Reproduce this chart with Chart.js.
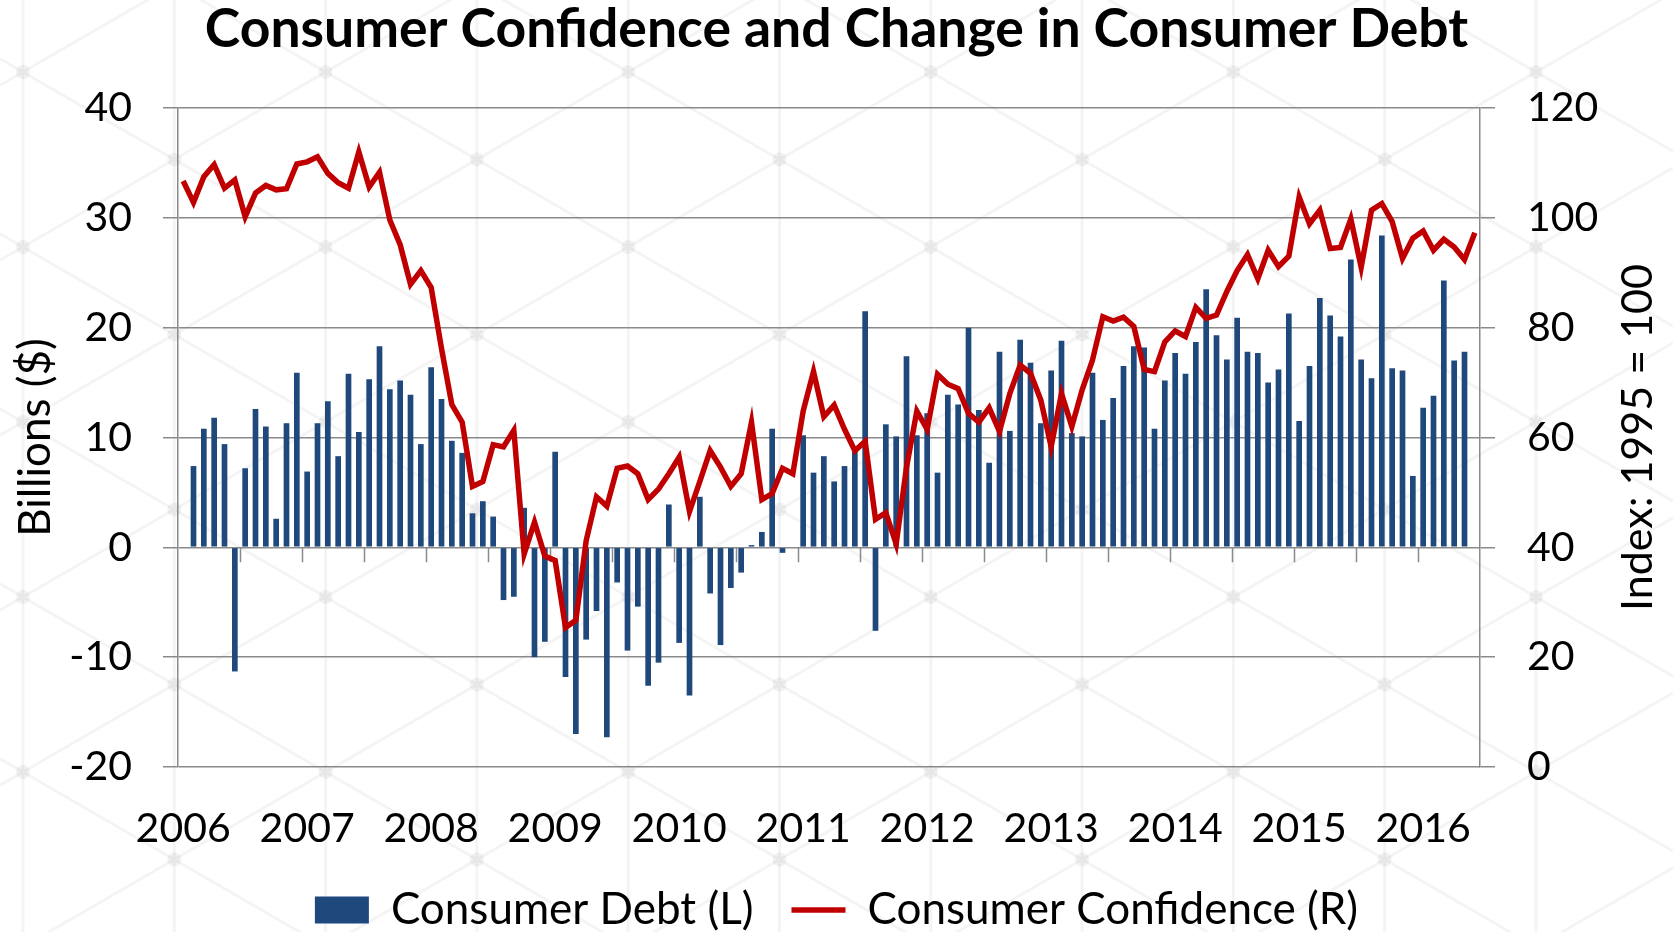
<!DOCTYPE html>
<html>
<head>
<meta charset="utf-8">
<title>Consumer Confidence and Change in Consumer Debt</title>
<script src="https://cdn.jsdelivr.net/npm/chart.js@4.4.1/dist/chart.umd.min.js"></script>
<style>
  html, body { margin: 0; padding: 0; background: #ffffff; }
  #chart { display: block; }
</style>
</head>
<body>
<canvas id="chart" width="1673" height="932"></canvas>
<script>
// Monthly data, Jan 2006 - Jun 2016
const years = ['2006', '2007', '2008', '2009', '2010', '2011', '2012', '2013', '2014', '2015', '2016'];

// Change in consumer debt, billions of dollars (left axis)
const debt2006 = [null, 7.4, 10.8, 11.8, 9.4, -11.3, 7.2, 12.6, 11.0, 2.6, 11.3, 15.9];
const debt2007 = [6.9, 11.3, 13.3, 8.3, 15.8, 10.5, 15.3, 18.3, 14.4, 15.2, 13.9, 9.4];
const debt2008 = [16.4, 13.5, 9.7, 8.6, 3.1, 4.2, 2.8, -4.8, -4.5, 3.6, -10.0, -8.6];
const debt2009 = [8.7, -11.8, -17.0, -8.4, -5.8, -17.3, -3.2, -9.4, -5.4, -12.6, -10.5, 3.9];
const debt2010 = [-8.7, -13.5, 4.6, -4.2, -8.9, -3.7, -2.3, 0.2, 1.4, 10.8, -0.5, null];
const debt2011 = [10.2, 6.8, 8.3, 6.0, 7.4, 8.7, 21.5, -7.6, 11.2, 10.1, 17.4, 10.2];
const debt2012 = [12.2, 6.8, 13.9, 13.0, 20.0, 12.5, 7.7, 17.8, 10.6, 18.9, 16.8, 11.3];
const debt2013 = [16.1, 18.8, 10.4, 10.1, 15.9, 11.6, 13.6, 16.5, 18.3, 18.2, 10.8, 15.2];
const debt2014 = [17.7, 15.8, 18.7, 23.5, 19.3, 17.1, 20.9, 17.8, 17.7, 15.0, 16.2, 21.3];
const debt2015 = [11.5, 16.5, 22.7, 21.1, 19.2, 26.2, 17.1, 15.4, 28.4, 16.3, 16.1, 6.5];
const debt2016 = [12.7, 13.8, 24.3, 17.0, 17.8, null];

// Consumer confidence index, 1995 = 100 (right axis)
const conf2006 = [106.7, 102.8, 107.5, 109.7, 105.4, 106.9, 100.2, 104.5, 105.9, 105.1, 105.3, 109.8];
const conf2007 = [110.2, 111.1, 108.1, 106.4, 105.4, 112.0, 105.6, 108.3, 99.6, 95.1, 87.9, 90.4];
const conf2008 = [87.3, 76.2, 66.0, 62.8, 51.1, 52.0, 58.7, 58.3, 61.3, 38.8, 44.6, 38.4];
const conf2009 = [37.6, 25.4, 26.7, 41.2, 49.2, 47.5, 54.4, 54.8, 53.4, 48.7, 50.6, 53.4];
const conf2010 = [56.4, 46.5, 52.0, 57.6, 54.6, 51.1, 53.4, 62.8, 48.7, 49.8, 54.4, 53.4];
const conf2011 = [64.8, 72.0, 63.8, 65.9, 61.5, 57.6, 59.3, 45.1, 46.3, 40.6, 54.6, 64.8];
const conf2012 = [61.5, 71.5, 69.7, 68.9, 64.4, 62.8, 65.4, 61.1, 68.0, 73.2, 71.7, 66.8];
const conf2013 = [58.3, 68.0, 62.0, 68.7, 74.1, 82.0, 81.2, 81.9, 80.2, 72.4, 72.0, 77.4];
const conf2014 = [79.4, 78.4, 83.7, 81.7, 82.3, 86.6, 90.4, 93.3, 88.9, 94.1, 91.1, 93.0];
const conf2015 = [103.8, 98.9, 101.4, 94.4, 94.6, 99.8, 91.0, 101.4, 102.6, 99.3, 92.6, 96.3];
const conf2016 = [97.6, 94.1, 96.1, 94.7, 92.4, 97.3];

const debtValues = [].concat(debt2006, debt2007, debt2008, debt2009, debt2010, debt2011,
    debt2012, debt2013, debt2014, debt2015, debt2016);
const confValues = [].concat(conf2006, conf2007, conf2008, conf2009, conf2010, conf2011,
    conf2012, conf2013, conf2014, conf2015, conf2016);

// one label per month, "YYYY-MM"
const monthLabels = [];
years.forEach(function(y) {
    for (let m = 1; m <= 12; m++) {
        if (monthLabels.length < confValues.length) {
            monthLabels.push(y + '-' + (m < 10 ? '0' + m : m));
        }
    }
});

const FONT = 'Lato, "Open Sans", sans-serif';
const GRID = '#8a8a8a';
const rightTitle = 'Index: 1995 = 100';

// faint isometric watermark behind the chart
const watermark = {
    id: 'watermark',
    beforeDraw(chart) {
        const ctx = chart.ctx, w = chart.width, h = chart.height;
        const dx = 151.3, dy = 87.5, x0 = 23, y0 = 72;
        const slope = dy / dx;
        ctx.save();
        ctx.fillStyle = '#fff';
        ctx.fillRect(0, 0, w, h);
        ctx.strokeStyle = 'rgba(0,0,0,0.045)';
        ctx.lineWidth = 3;
        ctx.beginPath();
        for (let x = x0; x < w; x += dx) {
            ctx.moveTo(x, 0);
            ctx.lineTo(x, h);
        }
        for (let n = -12; n <= 12; n++) {
            const c = y0 + 2 * dy * n;
            ctx.moveTo(0, c - slope * x0);
            ctx.lineTo(w, c + slope * (w - x0));
            ctx.moveTo(0, c + slope * x0);
            ctx.lineTo(w, c - slope * (w - x0));
        }
        ctx.stroke();
        ctx.fillStyle = 'rgba(0,0,0,0.05)';
        for (let j = -1; j * dy + y0 < h + dy; j++) {
            for (let i = 0; i * dx + x0 < w + dx; i++) {
                if ((i + j) % 2 !== 0) continue;
                ctx.beginPath();
                ctx.arc(x0 + i * dx, y0 + j * dy, 7, 0, Math.PI * 2);
                ctx.fill();
            }
        }
        ctx.restore();
    }
};

// small tick marks every 6 months on the zero line
const zeroTicks = {
    id: 'zeroTicks',
    beforeDatasetsDraw(chart) {
        const x = chart.scales.x, y = chart.scales.y;
        const y0 = y.getPixelForValue(0);
        const half = (x.getPixelForValue(1) - x.getPixelForValue(0)) / 2;
        const ctx = chart.ctx;
        ctx.save();
        ctx.strokeStyle = GRID;
        ctx.lineWidth = 1.5;
        ctx.beginPath();
        for (let i = 6; i < monthLabels.length; i += 6) {
            const px = Math.round(x.getPixelForValue(i) - half) + 0.5;
            ctx.moveTo(px, y0);
            ctx.lineTo(px, y0 + 15);
        }
        ctx.stroke();
        ctx.restore();
    }
};

// right axis title, reading bottom to top like the left one
const rightAxisTitle = {
    id: 'rightAxisTitle',
    afterDraw(chart) {
        const s = chart.scales.y1;
        const ctx = chart.ctx;
        ctx.save();
        ctx.translate(s.right - 35, (s.top + s.bottom) / 2);
        ctx.rotate(-Math.PI / 2);
        ctx.textAlign = 'center';
        ctx.textBaseline = 'middle';
        ctx.fillStyle = '#000';
        ctx.font = '43px ' + FONT;
        ctx.fillText(rightTitle, 0, 0);
        ctx.restore();
    }
};

new Chart(document.getElementById('chart'), {
    data: {
        labels: monthLabels,
        datasets: [
            {
                type: 'bar',
                label: 'Consumer Debt (L)',
                data: debtValues,
                backgroundColor: '#1F497D',
                borderWidth: 0,
                barPercentage: 0.55,
                categoryPercentage: 1.0,
                pointStyle: 'rect',
                yAxisID: 'y',
                order: 2
            },
            {
                type: 'line',
                label: 'Consumer Confidence (R)',
                data: confValues,
                borderColor: '#C00000',
                backgroundColor: '#C00000',
                borderWidth: 5.5,
                pointRadius: 0,
                pointStyle: 'line',
                tension: 0,
                fill: false,
                yAxisID: 'y1',
                order: 1
            }
        ]
    },
    options: {
        responsive: false,
        animation: false,
        layout: { padding: { left: 0, right: 0, top: 0, bottom: -10 } },
        plugins: {
            tooltip: { enabled: false },
            title: {
                display: true,
                text: 'Consumer Confidence and Change in Consumer Debt',
                color: '#000',
                font: { family: FONT, size: 53.5, weight: 'bold', lineHeight: 1.1 },
                padding: { top: 0, bottom: 49.15 }
            },
            legend: {
                position: 'bottom',
                onClick: null,
                labels: {
                    color: '#000',
                    font: { family: FONT, size: 44 },
                    usePointStyle: true,
                    pointStyleWidth: 54,
                    boxHeight: 27,
                    padding: 38,
                    sort: function(a, b) { return a.datasetIndex - b.datasetIndex; }
                }
            }
        },
        scales: {
            x: {
                type: 'category',
                position: 'bottom',
                grid: { display: false, drawTicks: false },
                border: { display: false },
                ticks: {
                    autoSkip: false,
                    maxRotation: 0,
                    minRotation: 0,
                    padding: 41.5,
                    color: '#000',
                    font: { family: FONT, size: 41, lineHeight: 1.0 },
                    callback: function(value, index) {
                        const lbl = monthLabels[index];
                        return lbl.endsWith('-01') ? lbl.slice(0, 4) : '';
                    }
                },
                afterFit: function(scale) { scale.height = 83; }
            },
            y: {
                type: 'linear',
                position: 'left',
                min: -20,
                max: 40,
                ticks: {
                    stepSize: 10,
                    padding: 31,
                    color: '#000',
                    font: { family: FONT, size: 41 }
                },
                grid: { color: GRID, lineWidth: 1.5, tickLength: 15 },
                border: { display: true, color: GRID, width: 1.5 },
                title: {
                    display: true,
                    text: 'Billions ($)',
                    color: '#000',
                    font: { family: FONT, size: 44 },
                    padding: { top: 9, bottom: 0 }
                },
                afterFit: function(scale) { scale.width = 178; }
            },
            y1: {
                type: 'linear',
                position: 'right',
                min: 0,
                max: 120,
                ticks: {
                    stepSize: 20,
                    padding: 32,
                    color: '#000',
                    font: { family: FONT, size: 41 }
                },
                grid: { drawOnChartArea: false, color: GRID, lineWidth: 1.5, tickLength: 15 },
                border: { display: true, color: GRID, width: 1.5 },
                afterFit: function(scale) { scale.width = 193; }
            }
        }
    },
    plugins: [watermark, zeroTicks, rightAxisTitle]
});
</script>
</body>
</html>
